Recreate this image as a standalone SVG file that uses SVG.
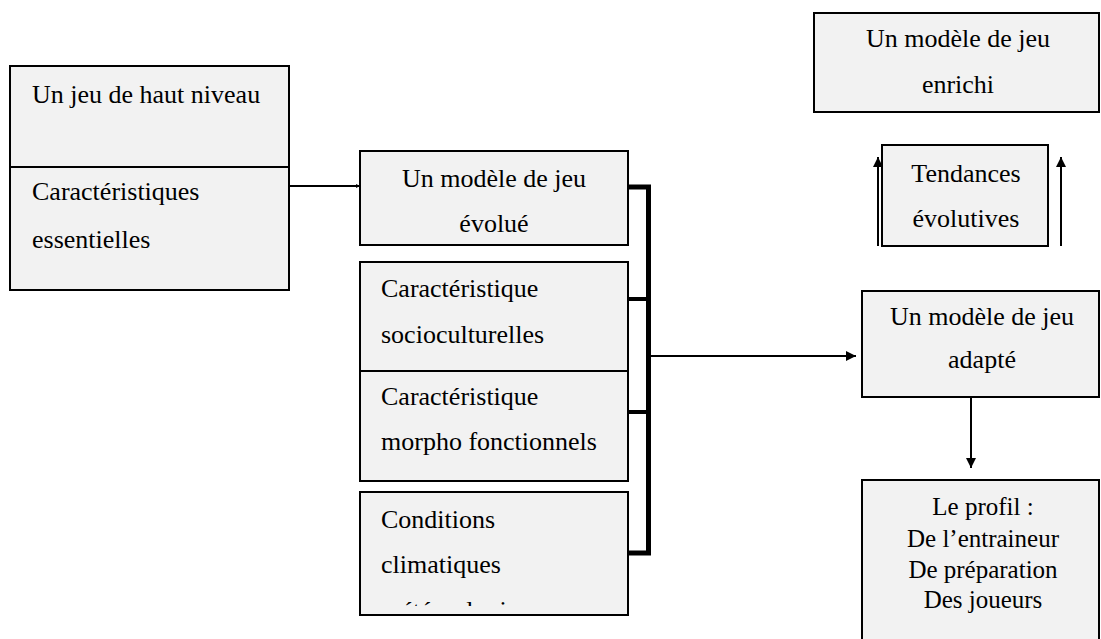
<svg xmlns="http://www.w3.org/2000/svg" width="1101" height="639" viewBox="0 0 1101 639">
<style>
.box{fill:#f2f2f2;stroke:#000;stroke-width:2}
.t{font-family:"Liberation Serif","Times New Roman",serif;font-size:26px;fill:#000}
.c{text-anchor:middle}
.p{font-size:25px}
.ln{stroke:#000;fill:none}
</style>
<defs>
<marker id="ah" viewBox="0 0 10 10" refX="10" refY="5" markerWidth="10" markerHeight="10" markerUnits="userSpaceOnUse" orient="auto">
<path d="M0,0 L10,5 L0,10 z" fill="#000"/>
</marker>
<marker id="ahs" viewBox="0 0 10 10" refX="10" refY="5" markerWidth="4" markerHeight="8" markerUnits="userSpaceOnUse" orient="auto">
<path d="M0,0 L10,5 L0,10 z" fill="#000"/>
</marker>
<clipPath id="clip5"><rect x="361" y="585" width="266" height="21"/></clipPath>
</defs>
<rect width="1101" height="639" fill="#fff"/>
<g id="n-haut-niveau">
<rect class="box" x="10" y="66" width="279" height="224"/>
<line class="ln" x1="10" y1="167" x2="289" y2="167" stroke-width="2"/>
<text class="t" x="32" y="103">Un jeu de haut niveau</text>
<text class="t" x="32" y="200">Caractéristiques</text>
<text class="t" x="32" y="248">essentielles</text>
</g>
<g id="n-evolue">
<rect class="box" x="360" y="151" width="268" height="94"/>
<text class="t c" x="494" y="187">Un modèle de jeu</text>
<text class="t c" x="494" y="232">évolué</text>
</g>
<g id="n-socio">
<rect class="box" x="360" y="262" width="268" height="109"/>
<text class="t" x="381" y="297">Caractéristique</text>
<text class="t" x="381" y="343">socioculturelles</text>
</g>
<g id="n-morpho">
<rect class="box" x="360" y="371" width="268" height="110"/>
<text class="t" x="381" y="405">Caractéristique</text>
<text class="t" x="381" y="450">morpho fonctionnels</text>
</g>
<g id="n-climat">
<rect class="box" x="360" y="492" width="268" height="123"/>
<text class="t" x="381" y="528">Conditions</text>
<text class="t" x="381" y="573">climatiques</text>
<text class="t" x="381" y="619" clip-path="url(#clip5)">météorologiques</text>
</g>
<g id="n-enrichi">
<rect class="box" x="814" y="13" width="285" height="99"/>
<text class="t c" x="958" y="47">Un modèle de jeu</text>
<text class="t c" x="958" y="93">enrichi</text>
</g>
<g id="n-tendances">
<rect class="box" x="882" y="145" width="166" height="101"/>
<text class="t c" x="966" y="182">Tendances</text>
<text class="t c" x="966" y="227">évolutives</text>
</g>
<g id="n-adapte">
<rect class="box" x="862" y="291" width="237" height="106"/>
<text class="t c" x="982" y="325">Un modèle de jeu</text>
<text class="t c" x="982" y="368">adapté</text>
</g>
<g id="n-profil">
<rect class="box" x="862" y="480" width="237" height="170"/>
<text class="t p c" x="983" y="515">Le profil :</text>
<text class="t p c" x="983" y="547">De l’entraineur</text>
<text class="t p c" x="983" y="578">De préparation</text>
<text class="t p c" x="983" y="608">Des joueurs</text>
</g>
<g id="connectors">
<line class="ln" x1="289" y1="186" x2="360" y2="186" stroke-width="2" marker-end="url(#ahs)"/>
<polyline class="ln" points="628,187 648.5,187 648.5,553 628,553" stroke-width="5"/>
<line class="ln" x1="628" y1="299" x2="648" y2="299" stroke-width="4"/>
<line class="ln" x1="628" y1="412" x2="648" y2="412" stroke-width="4"/>
<line class="ln" x1="651" y1="356" x2="856" y2="356" stroke-width="2" marker-end="url(#ah)"/>
<line class="ln" x1="971" y1="397" x2="971" y2="468" stroke-width="2" marker-end="url(#ah)"/>
<line class="ln" x1="878" y1="246" x2="878" y2="157" stroke-width="2" marker-end="url(#ah)"/>
<line class="ln" x1="1061" y1="246" x2="1061" y2="157" stroke-width="2" marker-end="url(#ah)"/>
</g>
</svg>
